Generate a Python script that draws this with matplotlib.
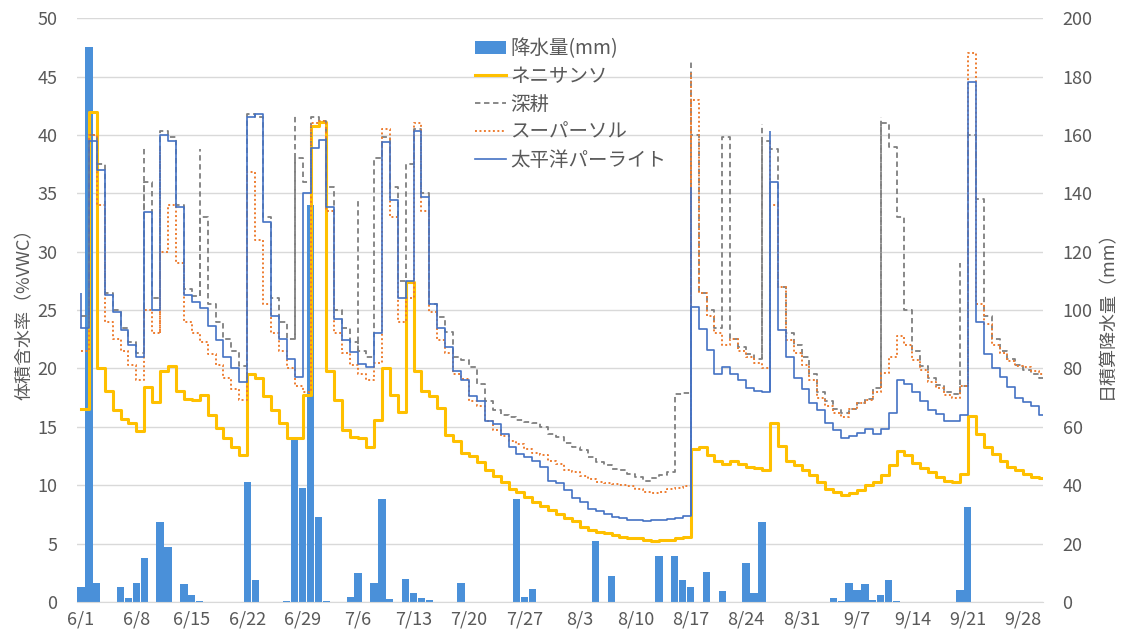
import numpy as np
import matplotlib.pyplot as plt
from matplotlib.lines import Line2D
from matplotlib.patches import Patch

plt.rcParams['font.family'] = ['Noto Sans CJK JP', 'DejaVu Sans']

# 6/1 .. 9/30 の日別データ（122日）
tick_labels = ["6/1", "6/8", "6/15", "6/22", "6/29", "7/6", "7/13", "7/20", "7/27",
               "8/3", "8/10", "8/17", "8/24", "8/31", "9/7", "9/14", "9/21", "9/28"]

rain = [5, 190, 6.5, 0, 0, 5, 1.3, 6.6, 15.2, 0,
        27.5, 18.8, 0, 6.1, 2.5, 0.4, 0, 0, 0, 0,
        0, 41, 7.5, 0, 0, 0, 0.3, 56, 39, 136,
        29, 0.4, 0, 0, 1.8, 10, 0, 6.6, 35.2, 1.1,
        0, 8, 3, 1.3, 0.7, 0, 0, 0, 6.6, 0,
        0, 0, 0, 0, 0, 35.2, 1.8, 4.4, 0, 0,
        0, 0, 0, 0, 0, 20.9, 0, 8.9, 0, 0,
        0, 0, 0, 15.8, 0, 15.8, 7.5, 5, 0, 10.4,
        0, 3.8, 0, 0, 13.2, 3, 27.5, 0, 0, 0,
        0, 0, 0, 0, 0, 1.3, 0.3, 6.6, 4.1, 6.2,
        0.8, 2.4, 7.5, 0.2, 0, 0, 0, 0, 0, 0,
        0, 4.1, 32.6, 0, 0, 0, 0, 0, 0, 0, 0, 0]

neni = [16.5, 42.0, 20.0, 18.1, 16.4, 15.7, 15.3, 14.6, 18.4, 17.1,
        19.8, 20.2, 18.1, 17.4, 17.3, 17.7, 16.0, 14.9, 14.0, 13.3,
        12.6, 19.5, 19.2, 17.6, 16.4, 15.3, 14.0, 14.0, 17.7, 40.8,
        41.1, 19.8, 17.3, 14.7, 14.1, 14.0, 13.3, 15.6, 20.0, 17.7,
        16.3, 27.4, 19.8, 18.1, 17.6, 16.6, 14.3, 13.8, 12.8, 12.5,
        12.0, 11.3, 10.8, 10.3, 9.7, 9.4, 9.0, 8.6, 8.2, 7.9,
        7.5, 7.2, 6.9, 6.4, 6.2, 6.0, 5.9, 5.7, 5.6, 5.5,
        5.45, 5.3, 5.2, 5.3, 5.35, 5.5, 5.6, 13.1, 13.3, 12.6,
        12.1, 11.8, 12.1, 11.8, 11.6, 11.5, 11.3, 15.3, 13.4, 12.1,
        11.7, 11.3, 10.9, 10.3, 9.7, 9.4, 9.15, 9.3, 9.6, 10.0,
        10.3, 10.9, 11.7, 12.9, 12.6, 11.9, 11.5, 11.1, 10.7, 10.4,
        10.3, 11.0, 15.9, 14.4, 13.3, 12.7, 12.1, 11.6, 11.3, 11.0, 10.7, 10.6]

shinkou = [24.5, 40.0, 37.5, 26.5, 25.0, 23.5, 22.3, 21.3, 36.0, 26.0,
           40.3, 39.8, 34.0, 26.8, 26.2, 33.0, 25.5, 24.0, 22.5, 21.5,
           20.2, 41.8, 41.5, 33.0, 26.0, 24.0, 22.5, 38.0, 36.0, 41.5,
           41.2, 35.5, 25.0, 23.5, 22.3, 21.5, 21.0, 38.0, 39.8, 35.5,
           27.5, 37.5, 40.5, 35.0, 25.5, 24.4, 23.1, 21.0, 20.7, 20.1,
           18.7, 17.2, 16.4, 16.0, 15.8, 15.6, 15.4, 15.3, 15.0, 14.4,
           14.1, 13.6, 13.3, 13.0, 12.4, 12.0, 11.7, 11.4, 11.3, 11.0,
           10.7, 10.4, 10.6, 10.9, 11.1, 17.8, 17.9, 40.0, 26.5, 25.0,
           23.5, 39.8, 22.5, 21.8, 21.2, 20.8, 39.5, 38.8, 27.0, 23.0,
           22.0, 21.0, 19.5, 18.0, 17.2, 16.5, 16.2, 16.5, 17.0, 17.4,
           18.3, 41.0, 39.0, 33.0, 25.0, 21.5, 20.2, 19.2, 18.6, 18.0,
           17.8, 18.5, 40.0, 34.5, 24.5, 22.5, 21.5, 20.8, 20.3, 19.9, 19.5, 19.2]

supersol = [21.5, 40.0, 34.0, 24.0, 22.5, 21.5, 20.3, 19.0, 25.0, 23.0,
            30.0, 34.0, 29.0, 24.0, 23.0, 22.3, 21.2, 20.3, 19.2, 18.2,
            17.3, 36.8, 31.0, 25.5, 23.0, 21.5, 20.0, 18.5, 18.0, 41.0,
            41.2, 33.5, 23.0, 21.3, 20.3, 19.5, 19.0, 20.5, 40.5, 33.0,
            24.0, 26.0, 41.0, 33.5, 24.8, 22.4, 21.3, 19.5, 19.1, 17.2,
            16.8, 15.5, 14.7, 14.2, 13.8, 13.5, 13.1, 12.8, 12.6, 12.1,
            11.8, 11.3, 11.1, 10.8, 10.5, 10.3, 10.2, 10.1, 10.0, 9.9,
            9.7, 9.4, 9.3, 9.4, 9.7, 9.8, 9.9, 43.0, 26.5, 24.5,
            23.0, 22.0, 22.5, 21.5, 21.0, 20.5, 20.0, 34.0, 27.0, 22.4,
            21.3, 20.3, 19.0, 17.5, 16.8, 16.2, 15.8, 16.5, 17.0, 17.3,
            18.0, 19.6, 21.0, 22.8, 22.0, 20.7, 19.9, 18.8, 18.3, 17.7,
            17.5, 18.5, 47.0, 25.5, 23.8, 22.0, 21.3, 20.6, 20.2, 20.1, 19.8, 19.5]

pacific = [23.5, 39.5, 37.0, 26.3, 24.8, 23.3, 22.0, 21.0, 33.4, 25.0,
           40.0, 39.5, 33.8, 26.3, 25.7, 25.2, 23.6, 22.4, 21.0, 20.0,
           18.8, 41.5, 41.8, 32.5, 24.5, 22.5, 20.8, 19.3, 35.0, 38.9,
           39.6, 33.8, 24.2, 22.4, 21.4, 20.4, 20.1, 23.0, 39.4, 34.4,
           26.0, 27.5, 40.3, 34.7, 25.5, 23.5, 21.8, 19.8, 19.0, 17.6,
           17.2, 15.5, 15.2, 14.4, 13.3, 12.7, 12.4, 12.1, 11.6, 10.4,
           10.2, 9.6, 8.9, 8.6, 8.0, 7.8, 7.5, 7.3, 7.2, 7.0,
           7.0, 6.9, 7.0, 7.0, 7.1, 7.2, 7.4, 25.3, 23.4, 21.6,
           19.5, 20.1, 19.5, 19.0, 18.3, 18.1, 18.0, 36.0, 23.3, 21.0,
           19.2, 18.2, 17.0, 16.4, 15.3, 14.7, 14.0, 14.2, 14.5, 14.8,
           14.4, 14.8, 16.2, 19.0, 18.7, 18.0, 17.2, 16.4, 16.1, 15.5,
           15.5, 16.0, 44.5, 24.0, 21.2, 20.0, 19.3, 18.4, 17.5, 17.1, 16.8, 16.0]

# 短時間のピーク（日, 最大値）
shinkou_spike_day = [8, 15, 27, 35, 77, 86, 101, 111]
shinkou_spike_top = [39.0, 38.8, 41.7, 34.5, 46.5, 40.9, 41.5, 29.0]
supersol_spike_day = [10, 77, 87]
supersol_spike_top = [39.0, 45.3, 39.5]
pacific_spike_day = [0, 77, 87]
pacific_spike_top = [26.5, 35.5, 40.3]

TXT = "#595959"
GRID = "#D9D9D9"

fig = plt.figure(figsize=(11.24, 6.36), dpi=100)
ax_r = fig.add_axes([0.0685, 0.0535, 0.8595, 0.918])
ax = ax_r.twinx()

days = np.arange(len(rain))
ax_r.bar(days, rain, width=0.92, color="#4A90D9", zorder=2)
ax_r.set_ylim(0, 200)
ax_r.set_yticks(range(0, 201, 20))
ax_r.yaxis.tick_right()
ax_r.yaxis.set_label_position("right")
ax_r.set_ylabel("日積算降水量（mm）", color=TXT, fontsize=13, labelpad=4)
ax_r.grid(axis="y", color=GRID, lw=1, zorder=0)
ax_r.set_axisbelow(True)

series = [
    ("ネニサンソ", neni, "#FFC000", "-", 2.2, [], []),
    ("深耕", shinkou, "#7F7F7F", (0, (3, 2)), 1.3, shinkou_spike_day, shinkou_spike_top),
    ("スーパーソル", supersol, "#ED7D31", (0, (1, 1.3)), 1.4, supersol_spike_day, supersol_spike_top),
    ("太平洋パーライト", pacific, "#4472C4", "-", 1.2, pacific_spike_day, pacific_spike_top),
]
handles = [Patch(facecolor="#4A90D9", label="降水量(mm)")]
for name, vals, col, ls, lw, sd, st in series:
    x = np.append(days, days[-1] + 0.5)
    y = np.append(vals, vals[-1])
    ax.step(x, y, where="post", color=col, ls=ls, lw=lw)
    for d, top in zip(sd, st):
        lo = min(vals[d], vals[d - 1]) if d > 0 else vals[d]
        ax.vlines(d, lo, top, color=col, ls=ls, lw=lw)
    handles.append(Line2D([], [], color=col, ls=ls, lw=lw, label=name))

ax.set_ylim(0, 50)
ax.set_yticks(range(0, 51, 5))
ax.yaxis.tick_left()
ax.yaxis.set_label_position("left")
ax.set_ylabel("体積含水率（%VWC）", color=TXT, fontsize=13, labelpad=3)

ax_r.set_xlim(-0.5, len(rain) - 0.5)
ax_r.set_xticks(range(0, len(rain), 7))
ax_r.set_xticklabels(tick_labels)

for a in (ax, ax_r):
    for s in a.spines.values():
        s.set_visible(False)
    a.tick_params(length=0, labelcolor=TXT, labelsize=13)
ax_r.spines["bottom"].set_visible(True)
ax_r.spines["bottom"].set_color(GRID)
ax.tick_params(axis="y", pad=14)
ax_r.tick_params(axis="y", pad=14)
ax_r.tick_params(axis="x", pad=6)

fig.legend(handles=handles, loc="upper left", bbox_to_anchor=(0.414, 0.955),
           frameon=False, fontsize=14, labelcolor=TXT, handlelength=1.6,
           handletextpad=0.2, labelspacing=0.35, borderpad=0)

fig.savefig("out.png", dpi=100)
